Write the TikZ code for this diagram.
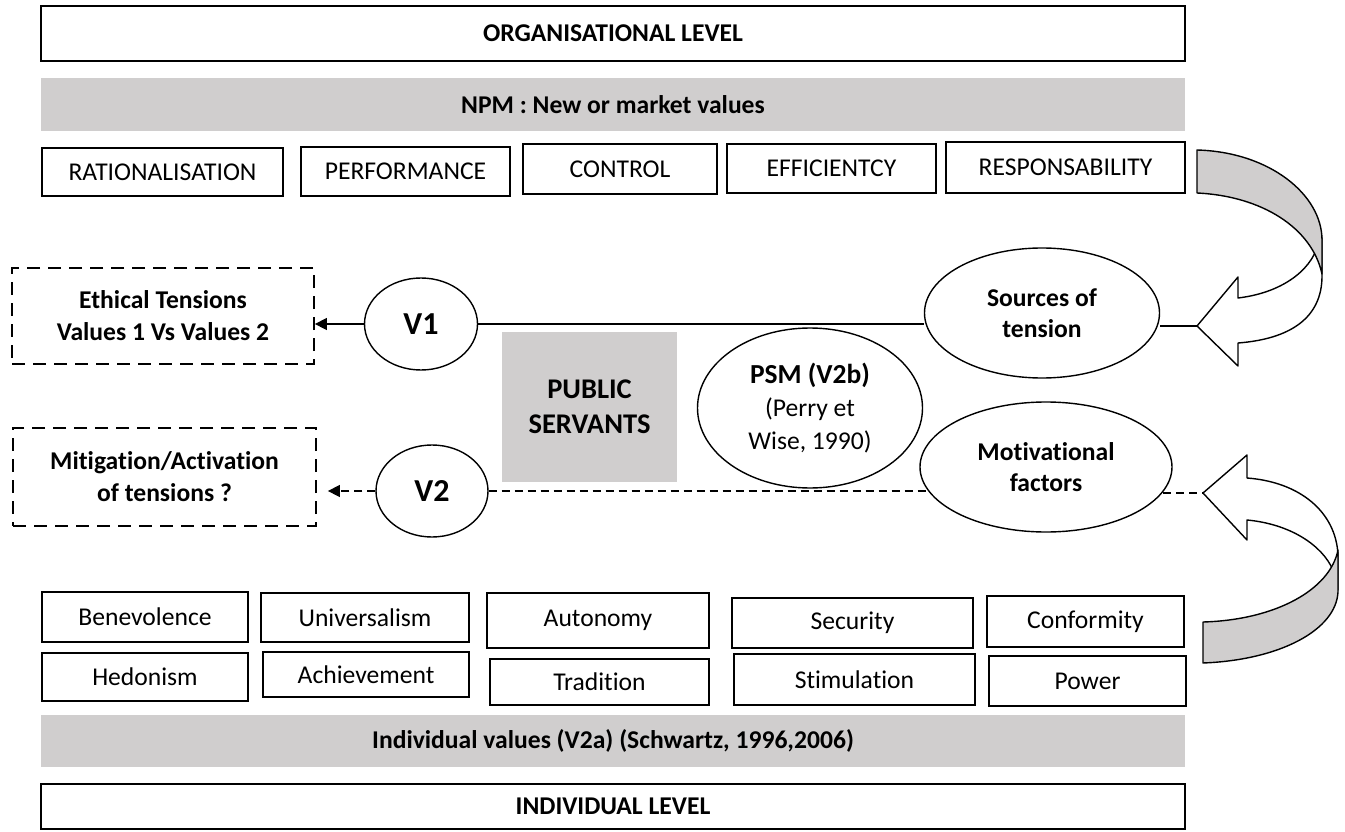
\documentclass[tikz,border=0pt]{standalone}
\usepackage{fontspec}
\setmainfont{Carlito}[Ligatures={NoCommon}]
\usetikzlibrary{shapes.geometric,arrows.meta}
\definecolor{bandgray}{RGB}{208,206,206}

\begin{document}
\begin{tikzpicture}[x=1pt,y=-1pt,
    font=\fontsize{25.6}{32}\selectfont,
    levelbox/.style={draw,line width=1.6pt,inner sep=0pt,font=\fontsize{25.6}{32}\selectfont\bfseries},
    band/.style={fill=bandgray,inner sep=0pt,font=\fontsize{25.6}{32}\selectfont\bfseries},
    valbox/.style={draw,line width=1.5pt,inner sep=0pt},
    dashbox/.style={draw,line width=1.8pt,dash pattern=on 13pt off 8pt,inner sep=0pt,align=center,font=\fontsize{25.6}{32}\selectfont\bfseries},
    oval/.style={draw,ellipse,line width=1.4pt,inner sep=0pt,align=center},
    link/.style={line width=1.5pt},
    dlink/.style={line width=1.5pt,dash pattern=on 8pt off 5pt},
    twist/.style={line width=1.4pt,line join=round}]
  \useasboundingbox (0,0) rectangle (1345,832);
  % Organisational level
  \node[levelbox,minimum width=1144,minimum height=55] (org) at (613,33.5) {ORGANISATIONAL LEVEL};
  \node[band,minimum width=1144,minimum height=53] (npm) at (613,104.5) {NPM : New or market values};
  \node[valbox,minimum width=241,minimum height=48] (rat) at (162.5,172) {RATIONALISATION};
  \node[valbox,minimum width=209,minimum height=49] (perf) at (405.5,171.5) {PERFORMANCE};
  \node[valbox,minimum width=194,minimum height=50] (ctrl) at (620,169) {CONTROL};
  \node[valbox,minimum width=209,minimum height=49] (eff) at (831.5,168.5) {EFFICIENTCY};
  \node[valbox,minimum width=239,minimum height=51] (resp) at (1065.5,167.5) {RESPONSABILITY};
  % Middle
  \node[dashbox,minimum width=302,minimum height=96] (ethical) at (163,316) {Ethical Tensions\\Values 1 Vs Values 2};
  \node[dashbox,minimum width=303,minimum height=98] (mitig) at (164.5,477) {Mitigation/Activation\\of tensions ?};
  \node[oval,minimum width=113,minimum height=92,font=\fontsize{32}{36}\selectfont\bfseries] (v1) at (421,324) {V1};
  \node[oval,minimum width=112,minimum height=92,font=\fontsize{32}{36}\selectfont\bfseries] (v2) at (432,491) {V2};
  \node[fill=bandgray,minimum width=175,minimum height=150,inner sep=0pt,align=center,font=\fontsize{28.5}{35}\selectfont\bfseries] (pub) at (589.5,407) {PUBLIC\\SERVANTS};
  \node[oval,minimum width=225,minimum height=160,font=\fontsize{25.6}{33}\selectfont] (psm) at (810,408) {{\fontsize{27.5}{33}\selectfont\bfseries PSM (V2b)}\\(Perry et\\Wise, 1990)};
  \node[oval,minimum width=235,minimum height=130,font=\fontsize{25.6}{31}\selectfont\bfseries] (sources) at (1042,313) {Sources of\\tension};
  \node[oval,minimum width=252,minimum height=130,font=\fontsize{25.6}{31}\selectfont\bfseries] (motiv) at (1046,467) {Motivational\\factors};
  \coordinate (ttip) at (1197,326);
  \coordinate (btip) at (1203,493);
  % Individual level
  \node[valbox,minimum width=206,minimum height=50] (bene) at (145,617) {Benevolence};
  \node[valbox,minimum width=208,minimum height=49] (univ) at (365,617.5) {Universalism};
  \node[valbox,minimum width=222,minimum height=55] (auto) at (598,620.5) {Autonomy};
  \node[valbox,minimum width=241,minimum height=50] (secu) at (852.5,623) {Security};
  \node[valbox,minimum width=197,minimum height=51] (conf) at (1085.5,621.5) {Conformity};
  \node[valbox,minimum width=206,minimum height=48] (hedo) at (145,677) {Hedonism};
  \node[valbox,minimum width=206,minimum height=45] (achi) at (366,674.5) {Achievement};
  \node[valbox,minimum width=219,minimum height=46] (trad) at (599.5,682) {Tradition};
  \node[valbox,minimum width=241,minimum height=51] (stim) at (854.5,679.5) {Stimulation};
  \node[valbox,minimum width=197,minimum height=50] (power) at (1087.5,681) {Power};
  \node[band,minimum width=1144,minimum height=52] (indval) at (613,741) {Individual values (V2a) (Schwartz, 1996,2006)};
  \node[levelbox,minimum width=1144,minimum height=45] (ind) at (613,806.5) {INDIVIDUAL LEVEL};
  % Connectors
  \draw[link,-{Triangle[length=12pt,width=12pt]}] (v1.west) -- (v1.west -| ethical.east);
  \draw[link] (v1.east) -- (v1.east -| sources.west);
  \draw[link] (sources.east |- ttip) -- (ttip);
  \draw[dlink,-{Triangle[length=12pt,width=12pt]},shorten >=11pt] (v2.west) -- (v2.west -| mitig.east);
  \draw[dlink] (v2.east) -- (v2.east -| motiv.192);
  \draw[dlink] (motiv.348 |- btip) -- (btip);
  % Curved arrows
  \draw[twist,fill=white] (1322,238) -- (1322,276) .. controls (1322,318) and (1290,339) .. (1238,343)
    -- (1238,366) -- (ttip) -- (1238,277) -- (1238,298) .. controls (1280,293) and (1310,272) .. (1318,245) -- cycle;
  \draw[twist,fill=bandgray] (1197,150) .. controls (1270,152) and (1322,195) .. (1322,240)
    -- (1322,274) .. controls (1312,228) and (1262,196) .. (1197,193) -- cycle;
  \draw[twist,fill=white] (1338,590) -- (1338,555) .. controls (1336,512) and (1300,482) .. (1247,478)
    -- (1247,455) -- (btip) -- (1247,540) -- (1247,520) .. controls (1290,524) and (1322,545) .. (1333,570) -- cycle;
  \draw[twist,fill=bandgray] (1203,663) .. controls (1280,660) and (1336,630) .. (1338,592)
    -- (1338,550) .. controls (1330,590) and (1275,620) .. (1203,622) -- cycle;
\end{tikzpicture}
\end{document}
